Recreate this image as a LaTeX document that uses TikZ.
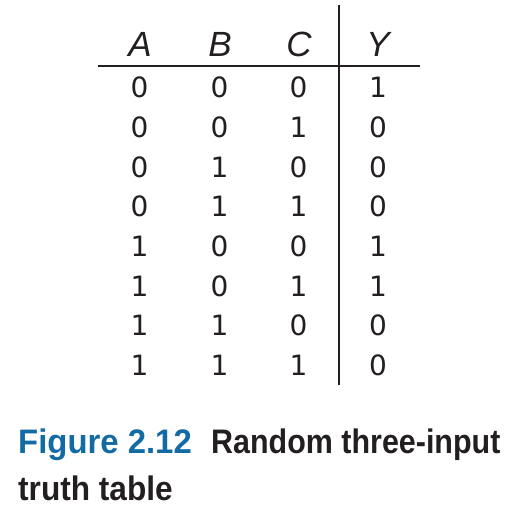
\documentclass[tikz,border=0pt]{standalone}
\usepackage{fontspec}
\setmainfont{Liberation Sans}
\newfontfamily\digitfont{DejaVu Sans}
\newfontfamily\capfont[FakeStretch=0.93]{Liberation Sans Bold}
\definecolor{ink}{RGB}{35,31,32}
\definecolor{figblue}{RGB}{18,107,163}
\begin{document}
\begin{tikzpicture}[x=1pt,y=-1pt,
  hdr/.style={inner sep=0pt,anchor=base,font=\fontsize{35}{35}\selectfont\itshape,text=ink},
  dig/.style={inner sep=0pt,anchor=center,font=\digitfont\fontsize{28}{28}\selectfont,text=ink},
  rulestyle/.style={draw=ink,line width=2.6pt},
  captext/.style={inner sep=0pt,anchor=base west,font=\capfont\fontsize{34}{34}\selectfont}]
\path[use as bounding box] (0,0) rectangle (524,532);
% header
\node[hdr] (hA) at (140,57) {A};
\node[hdr] (hB) at (220,57) {B};
\node[hdr] (hC) at (299,57) {C};
\node[hdr] (hY) at (378,57) {Y};
% rules
\coordinate (hl) at (98,66);
\coordinate (hr) at (420,66);
\coordinate (vt) at (339,5);
\coordinate (vb) at (339,385);
\draw[rulestyle] (hl) -- (hr);
\draw[rulestyle] (vt) -- (vb);
% rows
\foreach \a/\b/\c/\y [count=\i from 0] in {0/0/0/1,0/0/1/0,0/1/0/0,0/1/1/0,1/0/0/1,1/0/1/1,1/1/0/0,1/1/1/0}{
  \node[dig] (a\i) at (139.5,{87.5+39.7*\i}) {\a};
  \node[dig] (b\i) at (219.5,{87.5+39.7*\i}) {\b};
  \node[dig] (c\i) at (298.5,{87.5+39.7*\i}) {\c};
  \node[dig] (y\i) at (378,{87.5+39.7*\i}) {\y};
}
% caption
\node[captext,text=figblue] (fig) at (18,453) {\scalebox{1.04}[1]{Figure 2.12}};
\node[captext,text=ink] (cap1) at (211,453) {\scalebox{0.963}[1]{Random three-input}};
\node[captext,text=ink] (cap2) at (18,500) {truth table};
\end{tikzpicture}
\end{document}
